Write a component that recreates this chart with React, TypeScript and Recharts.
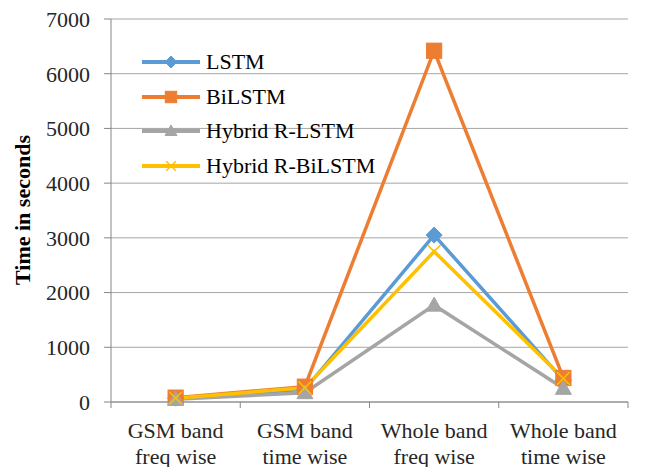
import React from "react";
import { LineChart, Line, XAxis, YAxis, CartesianGrid, Legend } from "recharts";

const categories = [
  ["GSM band", "freq wise"],
  ["GSM band", "time wise"],
  ["Whole band", "freq wise"],
  ["Whole band", "time wise"],
];
const lstm = [70, 230, 3050, 400];
const bilstm = [80, 280, 6420, 440];
const hybridLstm = [50, 170, 1770, 250];
const hybridBilstm = [70, 260, 2750, 430];
const yTicks = [0, 1000, 2000, 3000, 4000, 5000, 6000, 7000];

const seriesNames = ["LSTM", "BiLSTM", "Hybrid R-LSTM", "Hybrid R-BiLSTM"];
const seriesKeys = ["lstm", "bilstm", "hybridLstm", "hybridBilstm"];
const seriesColors = ["#5B9BD5", "#ED7D31", "#A5A5A5", "#FFC000"];
const seriesShapes = ["diamond", "square", "triangle", "x"];

const data = categories.map((c, i) => ({
  name: c.join(" "),
  lines: c,
  lstm: lstm[i],
  bilstm: bilstm[i],
  hybridLstm: hybridLstm[i],
  hybridBilstm: hybridBilstm[i],
}));

const FONT = "Liberation Serif, serif";
const CHART_W = 649;
const CHART_H = 467;
const MARGIN = { top: 19, right: 21, left: 0, bottom: 0 };
const Y_W = 111;
const X_H = 65;
const BAND = (CHART_W - MARGIN.right - Y_W) / categories.length;

function Marker({ shape, cx, cy, color, s }: any) {
  if (cx == null || cy == null) return null;
  if (shape === "diamond") {
    return (
      <polygon
        points={`${cx},${cy - s} ${cx + s},${cy} ${cx},${cy + s} ${cx - s},${cy}`}
        fill={color}
        stroke={color}
        strokeWidth={1}
      />
    );
  }
  if (shape === "square") {
    const h = s * 0.95;
    return <rect x={cx - h} y={cy - h} width={2 * h} height={2 * h} fill={color} stroke={color} strokeWidth={1} />;
  }
  if (shape === "triangle") {
    return (
      <polygon
        points={`${cx},${cy - s} ${cx + s},${cy + s * 0.75} ${cx - s},${cy + s * 0.75}`}
        fill={color}
        stroke={color}
        strokeWidth={1}
      />
    );
  }
  const h = s * 0.8;
  return (
    <g stroke={color} strokeWidth={1.5}>
      <line x1={cx - h} y1={cy - h} x2={cx + h} y2={cy + h} />
      <line x1={cx - h} y1={cy + h} x2={cx + h} y2={cy - h} />
    </g>
  );
}

const makeDot = (shape: string, color: string) => (props: any) => (
  <Marker key={`${shape}-${props.index}`} shape={shape} cx={props.cx} cy={props.cy} color={color} s={8} />
);

function XTick(props: any) {
  const { x, payload, index } = props;
  const cat = categories[index] || [payload.value];
  const axisY = CHART_H - X_H;
  return (
    <g>
      <line x1={x - BAND / 2} y1={axisY} x2={x - BAND / 2} y2={axisY + 6} stroke="#868686" strokeWidth={1} />
      {index === categories.length - 1 && (
        <line x1={x + BAND / 2} y1={axisY} x2={x + BAND / 2} y2={axisY + 6} stroke="#868686" strokeWidth={1} />
      )}
      <text x={x} y={axisY + 36} textAnchor="middle" fontFamily={FONT} fontSize={22} fill="#262626">
        {cat[0]}
      </text>
      <text x={x} y={axisY + 62} textAnchor="middle" fontFamily={FONT} fontSize={22} fill="#262626">
        {cat[1]}
      </text>
    </g>
  );
}

function LegendContent() {
  return (
    <div style={{ fontFamily: FONT, fontSize: 22, color: "#000", width: 280 }}>
      {seriesNames.map((n, i) => (
        <div key={n} style={{ display: "flex", alignItems: "center", height: 34.6, whiteSpace: "nowrap" }}>
          <svg width={62} height={20} style={{ display: "block" }}>
            <line x1={1} y1={10} x2={59} y2={10} stroke={seriesColors[i]} strokeWidth={4} />
            <Marker shape={seriesShapes[i]} cx={30} cy={10} color={seriesColors[i]} s={6} />
          </svg>
          <span style={{ marginLeft: 3, lineHeight: "22px" }}>{n}</span>
        </div>
      ))}
    </div>
  );
}

function YLabel() {
  return (
    <text
      x={30}
      y={210}
      transform="rotate(-90 30 210)"
      textAnchor="middle"
      fontFamily={FONT}
      fontSize={22}
      fontWeight="bold"
      fill="#000"
    >
      Time in seconds
    </text>
  );
}

export default function App() {
  return (
    <div style={{ position: "absolute", left: 0, top: 0, width: CHART_W, height: CHART_H, background: "#fff" }}>
      <LineChart width={CHART_W} height={CHART_H} data={data} margin={MARGIN}>
        <CartesianGrid vertical={false} stroke="#A6A6A6" strokeWidth={1} />
        <XAxis
          dataKey="name"
          height={X_H}
          axisLine={{ stroke: "#868686" }}
          tickLine={false}
          tick={<XTick />}
          interval={0}
          padding={{ left: BAND / 2, right: BAND / 2 }}
        />
        <YAxis
          width={Y_W}
          domain={[0, 7000]}
          ticks={yTicks}
          axisLine={{ stroke: "#868686" }}
          tickLine={{ stroke: "#868686" }}
          tickSize={7}
          tickMargin={14}
          tick={{ fontFamily: FONT, fontSize: 22, fill: "#262626" }}
          label={<YLabel />}
        />
        <Legend
          layout="vertical"
          align="left"
          verticalAlign="top"
          content={<LegendContent />}
          wrapperStyle={{ left: 141, top: 45, width: 0, height: 0, overflow: "visible" }}
        />
        {seriesKeys.map((k, i) => (
          <Line
            key={k}
            type="linear"
            dataKey={k}
            name={seriesNames[i]}
            stroke={seriesColors[i]}
            strokeWidth={3.5}
            dot={makeDot(seriesShapes[i], seriesColors[i])}
            activeDot={false}
            isAnimationActive={false}
          />
        ))}
      </LineChart>
    </div>
  );
}
